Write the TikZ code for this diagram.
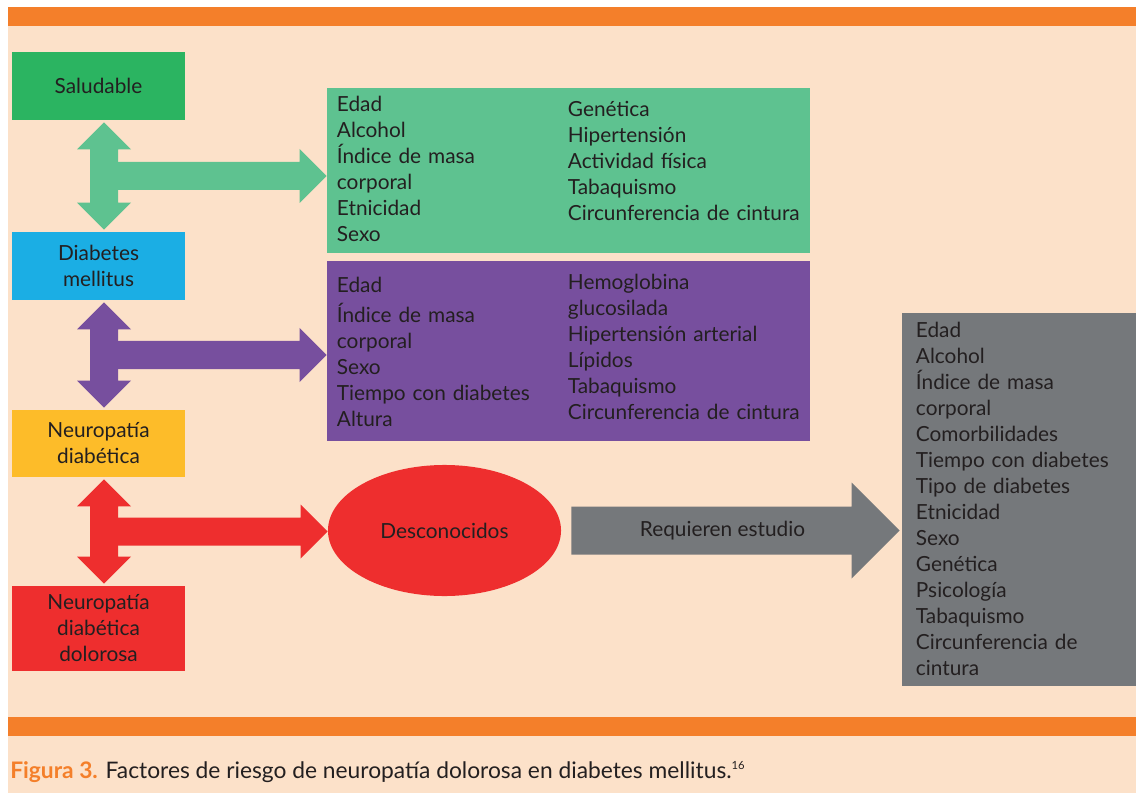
\documentclass[tikz,border=0pt]{standalone}
\usepackage{fontspec}
\setmainfont{Lato}
\usetikzlibrary{calc,shapes.geometric}

\definecolor{peach}{HTML}{FCE1C9}
\definecolor{barorange}{HTML}{F47F2A}
\definecolor{salgreen}{HTML}{2BB461}
\definecolor{dmblue}{HTML}{1BAEE4}
\definecolor{ndyellow}{HTML}{FDBC29}
\definecolor{nddred}{HTML}{EE2E2E}
\definecolor{riskgreen}{HTML}{5EC290}
\definecolor{riskpurple}{HTML}{774F9E}
\definecolor{riskgrey}{HTML}{75787B}
\definecolor{ink}{HTML}{231F20}

\newcommand{\bodyfont}{\fontsize{14.8}{18.5}\selectfont}
\newcommand{\captionfont}{\fontsize{16.2}{19}\selectfont}

% fat double arrow between two stages, with a branch to the list box
\newcommand{\stagearrow}[4]{%
  \coordinate (t) at ($(#1.south)+(5.5,2)$);
  \coordinate (b) at ($(#2.north)+(5.5,-2)$);
  \coordinate (m) at ($(t)!0.5!(b)$);
  \coordinate (p) at (m -| #3.west);
  \fill[#4] (t) -- ($(t)+(27,27)$) -- ($(t)+(14,27)$) -- ($(b)+(14,-27)$)
    -- ($(b)+(27,-27)$) -- (b) -- ($(b)+(-27,-27)$) -- ($(b)+(-14,-27)$)
    -- ($(t)+(-14,27)$) -- ($(t)+(-27,27)$) -- cycle;
  \fill[#4] ($(m)+(0,-14)$) -- ($(p)+(-27,-14)$) -- ($(p)+(-27,-27)$) -- (p)
    -- ($(p)+(-27,27)$) -- ($(p)+(-27,14)$) -- ($(m)+(0,14)$) -- cycle;
}

\tikzset{
  stage/.style={fill=#1, minimum width=4.325cm, minimum height=1.7cm,
    align=center, inner sep=0pt, font=\bodyfont, text=ink},
  riskbox/.style={fill=#1, inner sep=0pt},
  risklist/.style={anchor=base west, text width=6.5cm, align=left,
    inner sep=0pt, font=\bodyfont, text=ink}
}

\begin{document}
\begin{tikzpicture}[x=0.025cm, y=-0.025cm]
  \useasboundingbox (0,0) rectangle (1136,793);
  \fill[white] (0,0) rectangle (1136,793);
  \fill[peach] (8,7) rectangle (1136,793);
  \fill[barorange] (8,7) rectangle (1136,26);
  \fill[barorange] (8,717) rectangle (1136,736);

  % stages
  \node[stage=salgreen] (salud) at (98.5,86) {Saludable};
  \node[stage=dmblue] (dm) at (98.5,266) {Diabetes\\mellitus};
  \node[stage=ndyellow, minimum height=1.675cm] (nd) at (98.5,443.5) {Neuropatía\\diabética};
  \node[stage=nddred, minimum height=2.125cm] (ndd) at (98.5,628.5) {Neuropatía\\diabética\\dolorosa};

  % risk factor boxes
  \node[riskbox=riskgreen, minimum width=12.075cm, minimum height=4.125cm] (bgreen) at (568.5,170.5) {};
  \node[riskbox=riskpurple, minimum width=12.075cm, minimum height=4.5cm] (bpurple) at (568.5,351) {};
  \node[riskbox=riskgrey, minimum width=5.85cm, minimum height=9.325cm] (bgrey) at (1019,499.5) {};
  \node[ellipse, fill=nddred, minimum width=5.825cm, minimum height=3.275cm, inner sep=0pt,
    font=\bodyfont, text=ink] (unknown) at (444.5,530.5) {Desconocidos};

  \node[risklist] (gleft) at ($(bgreen.north west)+(10,24)$)
    {Edad\\Alcohol\\Índice de masa\\corporal\\Etnicidad\\Sexo};
  \node[risklist] (gright) at ($(bgreen.north west)+(241,29)$)
    {Genética\\Hipertensión\\Actividad física\\Tabaquismo\\Circunferencia de cintura};
  \node[risklist] (pleft) at ($(bpurple.north west)+(10,32)$)
    {Edad\\[0.1cm]Índice de masa\\corporal\\Sexo\\Tiempo con diabetes\\Altura};
  \node[risklist] (pright) at ($(bpurple.north west)+(241,29)$)
    {Hemoglobina\\glucosilada\\Hipertensión arterial\\Lípidos\\Tabaquismo\\Circunferencia de cintura};
  \node[risklist, text width=5.4cm] (glist) at ($(bgrey.north west)+(14,25)$)
    {Edad\\Alcohol\\Índice de masa\\corporal\\Comorbilidades\\Tiempo con diabetes\\Tipo de diabetes\\Etnicidad\\Sexo\\Genética\\Psicología\\Tabaquismo\\Circunferencia de\\cintura};

  % arrows
  \stagearrow{salud}{dm}{bgreen}{riskgreen}
  \stagearrow{dm}{nd}{bpurple}{riskpurple}
  \stagearrow{nd}{ndd}{unknown}{nddred}

  \coordinate (gs) at ($(unknown.east)+(10,0)$);
  \coordinate (ge) at ($(bgrey.west |- unknown.east)+(-2,0)$);
  \fill[riskgrey] ($(gs)+(0,-24)$) -- ($(ge)+(-48,-24)$) -- ($(ge)+(-48,-48)$) -- (ge)
    -- ($(ge)+(-48,48)$) -- ($(ge)+(-48,24)$) -- ($(gs)+(0,24)$) -- cycle;
  \node[font=\bodyfont, text=ink] (study) at ($(gs)!0.5!(ge)+(-13,0)$) {Requieren estudio};

  % caption
  \node[anchor=base west, inner sep=0pt, font=\captionfont, text=ink] (caption) at (10,778)
    {\textcolor{barorange}{\bfseries Figura 3.} Factores de riesgo de neuropatía dolorosa en diabetes mellitus.\textsuperscript{\footnotesize 16}};
\end{tikzpicture}
\end{document}
